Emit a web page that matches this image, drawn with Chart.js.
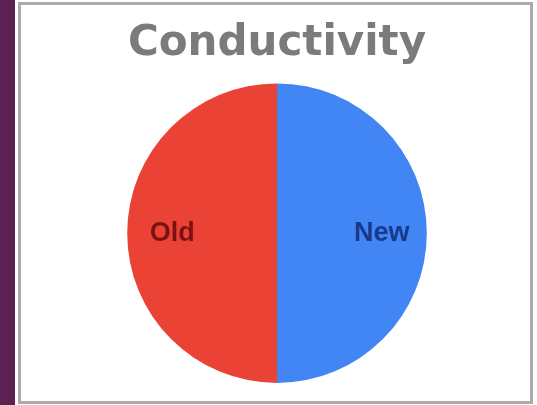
<!DOCTYPE html>
<html>
<head>
<meta charset="utf-8">
<script src="https://cdn.jsdelivr.net/npm/chart.js@4/dist/chart.umd.min.js"></script>
<style>
    html, body { margin: 0; padding: 0; background: #ffffff; }
    body { width: 537px; height: 405px; position: relative; overflow: hidden; }
    .side-strip { position: absolute; left: 0; top: 0; width: 15px; height: 405px; background: #5c2152; }
    .panel {
        position: absolute; left: 18px; top: 2px; width: 515px; height: 402px;
        box-sizing: border-box; border: 3px solid #ababab; background: #ffffff;
    }
    .panel canvas { display: block; }
</style>
</head>
<body>
<div class="side-strip"></div>
<div class="panel">
    <canvas id="conductivityChart" width="509" height="396"></canvas>
</div>
<script>
// Data grafik
const sliceLabels = ['Old', 'New'];
const sliceValues = [50, 50];
const sliceColors = ['#ea4335', '#4285f4'];
const sliceTextColors = ['#7a1212', '#173a8a'];

// Tulis nama tiap irisan di dalam irisannya sendiri
const sliceTextPlugin = {
    id: 'sliceText',
    afterDatasetsDraw(chart) {
        const ctx = chart.ctx;
        const meta = chart.getDatasetMeta(0);
        ctx.save();
        ctx.font = 'bold 27px "Liberation Sans", Arial, sans-serif';
        ctx.textAlign = 'center';
        ctx.textBaseline = 'middle';
        meta.data.forEach((arc, i) => {
            const p = arc.getProps(['x', 'y', 'startAngle', 'endAngle', 'outerRadius'], true);
            const mid = (p.startAngle + p.endAngle) / 2;
            const r = p.outerRadius * 0.7;
            ctx.fillStyle = sliceTextColors[i];
            ctx.fillText(chart.data.labels[i], p.x + Math.cos(mid) * r, p.y + Math.sin(mid) * r);
        });
        ctx.restore();
    }
};

const ctx = document.getElementById('conductivityChart').getContext('2d');
new Chart(ctx, {
    type: 'pie',
    data: {
        labels: sliceLabels,
        datasets: [{
            data: sliceValues,
            backgroundColor: sliceColors,
            borderWidth: 0
        }]
    },
    options: {
        responsive: false,
        animation: false,
        rotation: 180,
        layout: { padding: { left: 3, right: 0, top: 0, bottom: 18 } },
        plugins: {
            legend: { display: false },
            tooltip: { enabled: false },
            title: {
                display: true,
                text: 'Conductivity',
                color: '#7b7b7b',
                font: { family: '"DejaVu Sans", sans-serif', size: 42, weight: 'bold', lineHeight: 1.2 },
                padding: { top: 14, bottom: 14 }
            }
        }
    },
    plugins: [sliceTextPlugin]
});
</script>
</body>
</html>
